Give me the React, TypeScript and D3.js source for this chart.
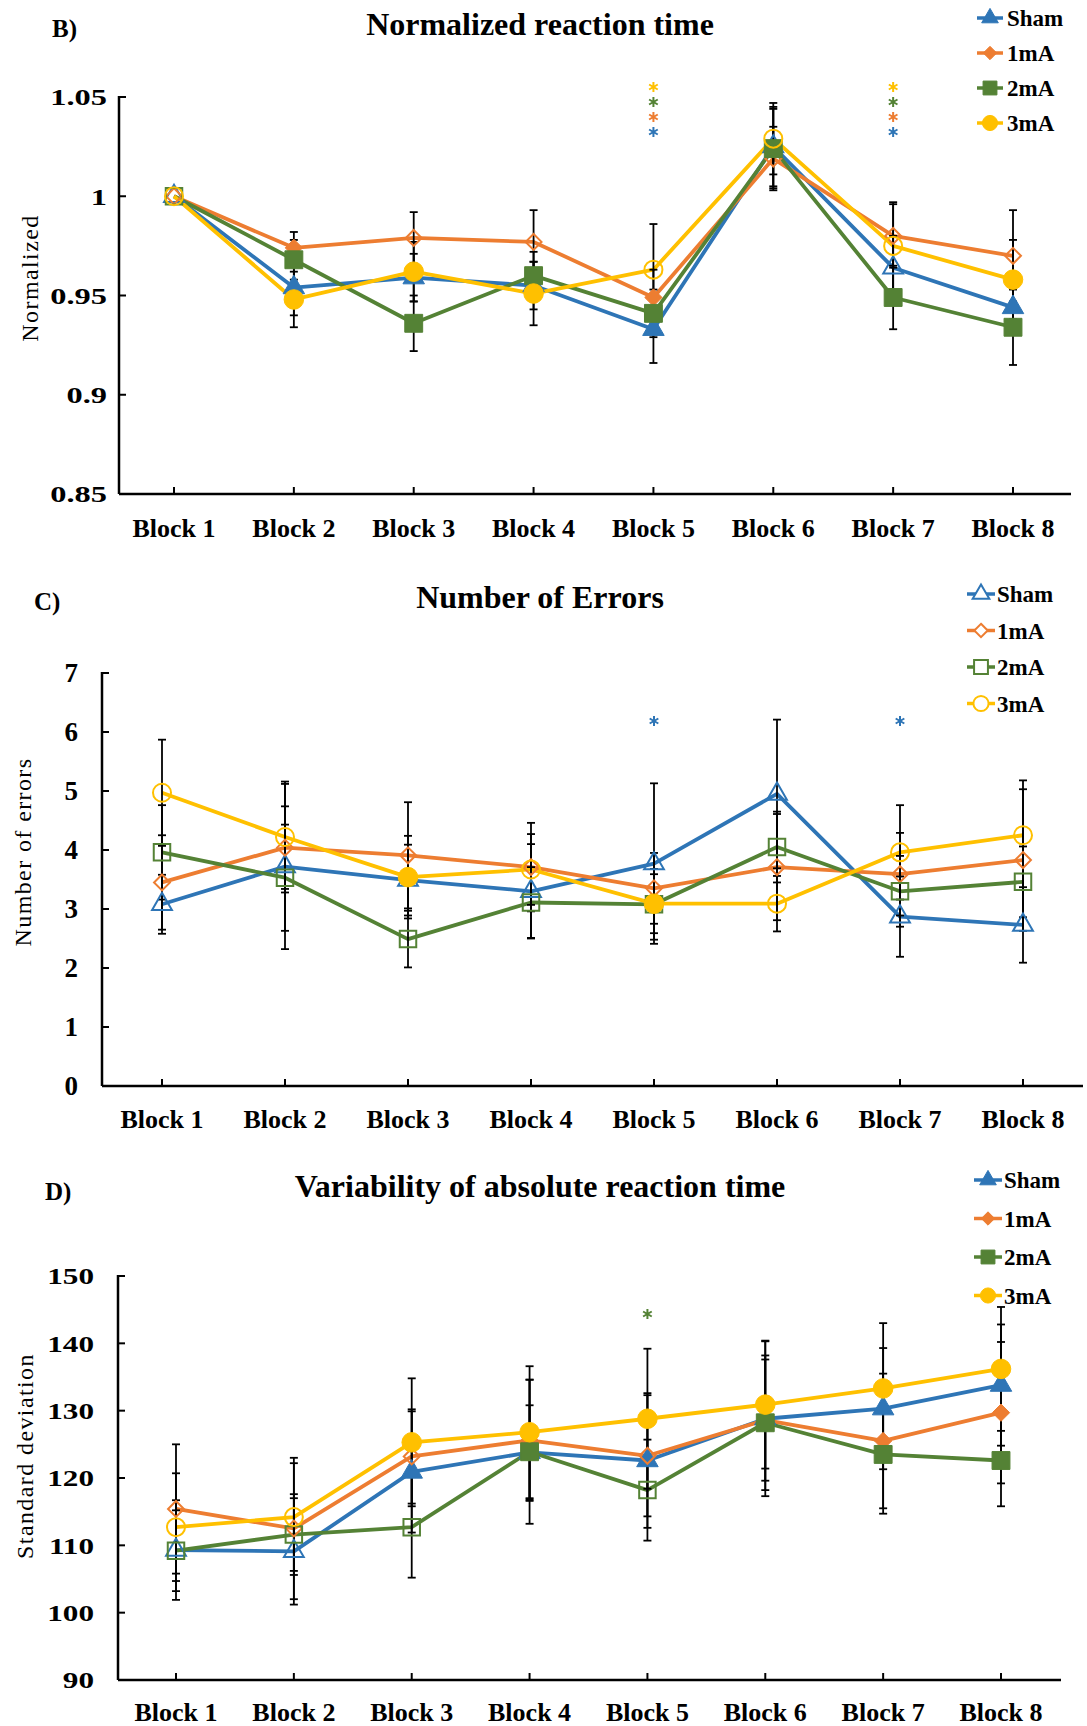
import React, { useEffect } from "react";
import * as d3 from "d3";

// ---- shared categories ----
const blocks = ["Block 1", "Block 2", "Block 3", "Block 4", "Block 5", "Block 6", "Block 7", "Block 8"];
const groups = ["Sham", "1mA", "2mA", "3mA"];
const groupColors = ["#2E75B6", "#ED7D31", "#548235", "#FFC000"];

// ---- B) Normalized reaction time ----
const rtTicks = [0.85, 0.9, 0.95, 1, 1.05];
const rtSham = [1.0, 0.954, 0.959, 0.955, 0.933, 1.025, 0.964, 0.944];
const rt1mA = [1.0, 0.974, 0.979, 0.977, 0.949, 1.019, 0.98, 0.97];
const rt2mA = [1.0, 0.968, 0.936, 0.96, 0.941, 1.024, 0.949, 0.934];
const rt3mA = [1.0, 0.948, 0.962, 0.951, 0.963, 1.029, 0.975, 0.958];
const rtErrSham = [0, 0.014, 0.012, 0.012, 0.017, 0.02, 0.016, 0.013];
const rtErr1mA = [0, 0.008, 0.013, 0.016, 0.014, 0.016, 0.016, 0.023];
const rtErr2mA = [0, 0.01, 0.014, 0.012, 0.012, 0.02, 0.016, 0.019];
const rtErr3mA = [0, 0.014, 0.015, 0.016, 0.023, 0.018, 0.022, 0.02];
// 1 = filled marker, 0 = open marker
const rtFillSham = [0, 1, 1, 1, 1, 0, 0, 1];
const rtFill1mA = [0, 1, 0, 0, 1, 0, 0, 0];
const rtFill2mA = [0, 1, 1, 1, 1, 1, 1, 1];
const rtFill3mA = [0, 1, 1, 1, 0, 0, 0, 1];
const rtStars = [
  { block: "Block 5", groups: ["3mA", "2mA", "1mA", "Sham"] },
  { block: "Block 7", groups: ["3mA", "2mA", "1mA", "Sham"] },
];

// ---- C) Number of errors ----
const errTicks = [0, 1, 2, 3, 4, 5, 6, 7];
const errSham = [3.08, 3.72, 3.49, 3.3, 3.77, 4.95, 2.87, 2.73];
const err1mA = [3.45, 4.04, 3.91, 3.71, 3.35, 3.71, 3.59, 3.83];
const err2mA = [3.96, 3.53, 2.49, 3.11, 3.08, 4.05, 3.3, 3.46];
const err3mA = [4.97, 4.22, 3.54, 3.67, 3.09, 3.09, 3.96, 4.25];
const errSeSham = [0.5, 1.4, 0.6, 0.8, 1.36, 1.26, 0.68, 0.64];
const errSe1mA = [0.8, 0.7, 0.9, 0.75, 0.6, 0.9, 0.7, 1.2];
const errSe2mA = [0.8, 0.9, 0.48, 0.6, 0.6, 0.6, 0.6, 0.6];
const errSe3mA = [0.9, 0.94, 0.7, 0.6, 0.5, 0.47, 0.8, 0.93];
const errFillSham = [0, 0, 0, 0, 0, 0, 0, 0];
const errFill1mA = [0, 0, 0, 0, 0, 0, 0, 0];
const errFill2mA = [0, 0, 0, 0, 0, 0, 0, 0];
const errFill3mA = [0, 0, 1, 0, 1, 0, 0, 0];
const errStars = [
  { block: "Block 5", groups: ["Sham"] },
  { block: "Block 7", groups: ["Sham"] },
];

// ---- D) Variability of absolute reaction time ----
const sdTicks = [90, 100, 110, 120, 130, 140, 150];
const sdSham = [109.3, 109.1, 120.9, 123.8, 122.6, 128.8, 130.3, 133.8];
const sd1mA = [115.4, 112.5, 123.2, 125.6, 123.3, 128.6, 125.5, 129.7];
const sd2mA = [109.2, 111.6, 112.7, 123.9, 118.2, 128.2, 123.5, 122.6];
const sd3mA = [112.7, 114.2, 125.3, 126.8, 128.8, 130.9, 133.3, 136.2];
const sdErrSham = [7.4, 7.9, 9, 7, 10, 11.5, 9, 9];
const sdErr1mA = [9.6, 10.5, 7, 9, 9, 9, 10, 10.5];
const sdErr2mA = [6, 6, 7.5, 10.7, 7.5, 10, 8.8, 6.8];
const sdErr3mA = [8, 8, 9.5, 9.8, 10.4, 9.5, 9.7, 9.2];
const sdFillSham = [0, 0, 1, 1, 1, 1, 1, 1];
const sdFill1mA = [0, 0, 0, 1, 0, 1, 1, 1];
const sdFill2mA = [0, 0, 0, 1, 0, 1, 1, 1];
const sdFill3mA = [0, 0, 1, 1, 1, 1, 1, 1];
const sdStars = [{ block: "Block 5", groups: ["2mA"] }];

const symbols = [d3.symbolTriangle, d3.symbolDiamond2, d3.symbolSquare, d3.symbolCircle];
const symbolSizes = [200, 190, 320, 300];
const FONT = '"Liberation Serif", "Times New Roman", serif';

const panels = [
  {
    tag: "B)",
    title: "Normalized reaction time",
    yLabel: "Normalized",
    domain: [0.85, 1.05],
    ticks: rtTicks,
    values: [rtSham, rt1mA, rt2mA, rt3mA],
    errs: [rtErrSham, rtErr1mA, rtErr2mA, rtErr3mA],
    fills: [rtFillSham, rtFill1mA, rtFill2mA, rtFill3mA],
    stars: rtStars,
    legendOpen: false,
    L: {
      axisX: 119, yTop: 97, yBottom: 494, xFirst: 174, xLast: 1013, axisEnd: 1071,
      titleY: 35, tagX: 52, tagY: 37, xLabY: 537, tickRight: 107, tickFont: 24, tickSx: 1.35,
      legLine: [977, 1003], legText: 1007, legY: 18, legStep: 35,
      yLabX: 38, yLabY: 278, starY: 87, starStep: 15,
    },
  },
  {
    tag: "C)",
    title: "Number of Errors",
    yLabel: "Number of errors",
    domain: [0, 7],
    ticks: errTicks,
    values: [errSham, err1mA, err2mA, err3mA],
    errs: [errSeSham, errSe1mA, errSe2mA, errSe3mA],
    fills: [errFillSham, errFill1mA, errFill2mA, errFill3mA],
    stars: errStars,
    legendOpen: true,
    L: {
      axisX: 102, yTop: 673, yBottom: 1086, xFirst: 162, xLast: 1023, axisEnd: 1083,
      titleY: 608, tagX: 34, tagY: 610, xLabY: 1128, tickRight: 78, tickFont: 27, tickSx: 1,
      legLine: [967, 995], legText: 997, legY: 594, legStep: 36.5,
      yLabX: 31, yLabY: 852, starY: 721, starStep: 15,
    },
  },
  {
    tag: "D)",
    title: "Variability of absolute reaction time",
    yLabel: "Standard deviation",
    domain: [90, 150],
    ticks: sdTicks,
    values: [sdSham, sd1mA, sd2mA, sd3mA],
    errs: [sdErrSham, sdErr1mA, sdErr2mA, sdErr3mA],
    fills: [sdFillSham, sdFill1mA, sdFill2mA, sdFill3mA],
    stars: sdStars,
    legendOpen: false,
    L: {
      axisX: 118, yTop: 1276, yBottom: 1680, xFirst: 176, xLast: 1001, axisEnd: 1061,
      titleY: 1197, tagX: 45, tagY: 1200, xLabY: 1721, tickRight: 94, tickFont: 24, tickSx: 1.3,
      legLine: [974, 1002], legText: 1004, legY: 1180, legStep: 38.5,
      yLabX: 33, yLabY: 1456, starY: 1314, starStep: 15,
    },
  },
];

const Panel = ({ p }) => {
  const L = p.L;
  const x = d3.scalePoint().domain(blocks).range([L.xFirst, L.xLast]);
  const y = d3.scaleLinear().domain(p.domain).range([L.yBottom, L.yTop]);
  const line = d3
    .line()
    .x((d, i) => x(blocks[i]))
    .y((d) => y(d));
  const star = d3.symbol(d3.symbolAsterisk, 70)();

  return (
    <g>
      <text x={540} y={L.titleY} textAnchor="middle" fontSize={32} fontWeight="bold" fontFamily={FONT}>
        {p.title}
      </text>
      <text x={L.tagX} y={L.tagY} fontSize={25} fontWeight="bold" fontFamily={FONT}>
        {p.tag}
      </text>
      <text
        transform={`translate(${L.yLabX},${L.yLabY}) rotate(-90)`}
        textAnchor="middle"
        fontSize={24}
        letterSpacing={1.4}
        fontFamily={FONT}
      >
        {p.yLabel}
      </text>

      {/* axes */}
      <line x1={L.axisX} x2={L.axisX} y1={L.yTop - 1} y2={L.yBottom} stroke="#000" strokeWidth={2.5} />
      <line x1={L.axisX} x2={L.axisEnd} y1={L.yBottom} y2={L.yBottom} stroke="#000" strokeWidth={2.5} />
      {p.ticks.map((t) => (
        <g key={t}>
          <line x1={L.axisX} x2={L.axisX + 7} y1={y(t)} y2={y(t)} stroke="#000" strokeWidth={2} />
          <text
            transform={`translate(${L.tickRight},${y(t)}) scale(${L.tickSx},1)`}
            textAnchor="end"
            dy="0.35em"
            fontSize={L.tickFont}
            fontWeight="bold"
            fontFamily={FONT}
          >
            {String(t)}
          </text>
        </g>
      ))}
      {blocks.map((b) => (
        <g key={b}>
          <line x1={x(b)} x2={x(b)} y1={L.yBottom} y2={L.yBottom - 7} stroke="#000" strokeWidth={2} />
          <text x={x(b)} y={L.xLabY} textAnchor="middle" fontSize={26} fontWeight="bold" fontFamily={FONT}>
            {b}
          </text>
        </g>
      ))}

      {/* series lines */}
      {p.values.map((vals, s) => (
        <path key={s} d={line(vals)} fill="none" stroke={groupColors[s]} strokeWidth={3.8} strokeLinejoin="round" />
      ))}

      {/* error bars */}
      {p.values.map((vals, s) =>
        vals.map((v, i) =>
          p.errs[s][i] > 0 ? (
            <g key={`e${s}-${i}`} stroke="#000" strokeWidth={1.8}>
              <line x1={x(blocks[i])} x2={x(blocks[i])} y1={y(v - p.errs[s][i])} y2={y(v + p.errs[s][i])} />
              <line x1={x(blocks[i]) - 4} x2={x(blocks[i]) + 4} y1={y(v + p.errs[s][i])} y2={y(v + p.errs[s][i])} />
              <line x1={x(blocks[i]) - 4} x2={x(blocks[i]) + 4} y1={y(v - p.errs[s][i])} y2={y(v - p.errs[s][i])} />
            </g>
          ) : null
        )
      )}

      {/* markers */}
      {p.values.map((vals, s) =>
        vals.map((v, i) => {
          const filled = p.fills[s][i] === 1;
          const sz = filled ? symbolSizes[s] : symbolSizes[s] * 0.85;
          return (
            <path
              key={`m${s}-${i}`}
              transform={`translate(${x(blocks[i])},${y(v)})`}
              d={d3.symbol(symbols[s], sz)()}
              fill={filled ? groupColors[s] : "none"}
              stroke={groupColors[s]}
              strokeWidth={filled ? 1 : 2}
            />
          );
        })
      )}

      {/* significance stars */}
      {p.stars.map((st) =>
        st.groups.map((g, k) => (
          <path
            key={`${st.block}-${g}`}
            transform={`translate(${x(st.block)},${L.starY + k * L.starStep})`}
            d={star}
            fill="none"
            stroke={groupColors[groups.indexOf(g)]}
            strokeWidth={2}
          />
        ))
      )}

      {/* legend */}
      {groups.map((g, s) => {
        const ly = L.legY + s * L.legStep;
        const cx = (L.legLine[0] + L.legLine[1]) / 2;
        return (
          <g key={g}>
            <line x1={L.legLine[0]} x2={L.legLine[1]} y1={ly} y2={ly} stroke={groupColors[s]} strokeWidth={3.5} />
            <path
              transform={`translate(${cx},${ly})`}
              d={d3.symbol(symbols[s], symbolSizes[s] * 0.6)()}
              fill={p.legendOpen ? "#fff" : groupColors[s]}
              stroke={groupColors[s]}
              strokeWidth={p.legendOpen ? 2 : 1}
            />
            <text x={L.legText} y={ly} dy="0.35em" fontSize={23} fontWeight="bold" fontFamily={FONT}>
              {g}
            </text>
          </g>
        );
      })}
    </g>
  );
};

const App = () => {
  useEffect(() => {
    document.body.style.margin = "0";
  }, []);

  return (
    <svg width={1087} height={1726} style={{ display: "block", background: "#fff" }}>
      {panels.map((p) => (
        <Panel key={p.tag} p={p} />
      ))}
    </svg>
  );
};

export default App;
